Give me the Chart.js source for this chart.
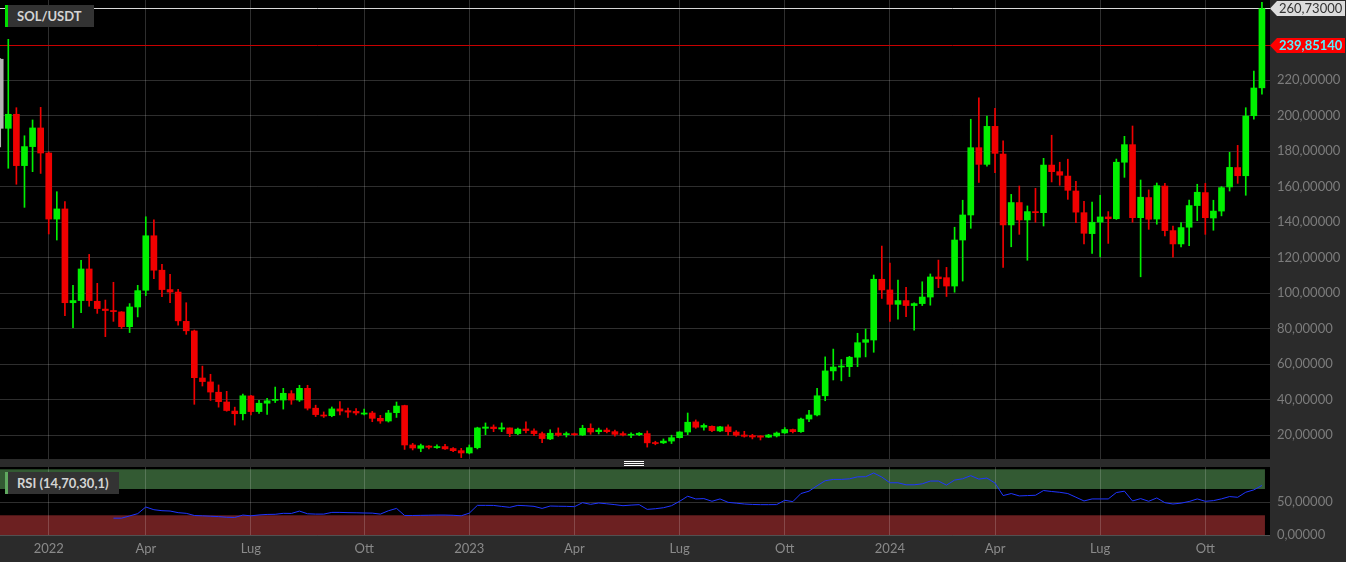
<!DOCTYPE html>
<html lang="it"><head><meta charset="utf-8"><title>SOL/USDT</title>
<script src="https://cdn.jsdelivr.net/npm/chart.js@4.4.1/dist/chart.umd.min.js"></script>
<style>
html,body{margin:0;padding:0;width:1346px;height:562px;overflow:hidden;background:#2b2b2b;font-family:Lato,"Open Sans",sans-serif}
canvas{position:absolute;left:0;display:block}
#main{top:0}
#rsi{top:467px}
.box{position:absolute;left:5px;height:22px;background:#333;color:#d4d4d4;font-weight:bold;box-sizing:border-box;line-height:22px;white-space:nowrap;font-size:13px}
#t1{top:5px;width:89px;border-left:3px solid #00e000;padding-left:9px}
#t2{top:472px;width:114px;border-left:3px solid #5fa85f;padding-left:9px}
#handle{position:absolute;left:624px;top:461px;width:20px;height:6px;background:repeating-linear-gradient(#fff 0 1px,transparent 1px 2px)}
</style></head><body>
<canvas id="main" width="1346" height="459"></canvas>
<canvas id="rsi" width="1346" height="95"></canvas>
<div class="box" id="t1">SOL/USDT</div>
<div class="box" id="t2">RSI (14,70,30,1)</div>
<div id="handle"></div>
<script>
// ---- data (weekly candles, index 0 = first visible week) ----
const open=[231.7,192.8,200.7,171.8,182.5,193.0,178.9,141.7,147.4,94.6,
95.8,113.6,95.4,91.0,90.2,89.4,81.1,92.2,101.6,132.3,
112.9,102.0,100.6,84.1,78.7,52.2,50.0,44.2,38.7,33.6,
32.1,42.1,33.3,38.0,39.6,39.8,43.4,39.8,46.4,35.2,
31.2,31.0,34.8,33.8,33.4,31.9,32.5,29.5,28.0,32.7,
36.7,14.5,12.6,13.9,13.0,13.6,12.5,11.3,10.0,13.0,
23.9,24.6,23.5,24.1,20.9,23.5,22.4,20.9,17.9,21.2,
20.3,20.7,20.1,23.9,22.0,22.9,22.0,20.9,20.0,20.3,
20.9,15.8,15.7,16.7,18.6,21.8,27.5,24.5,25.0,22.4,
24.7,21.8,20.1,19.8,19.6,18.9,19.6,21.3,23.2,22.0,
29.1,31.4,42.2,56.2,58.4,58.6,63.9,72.3,73.6,107.8,
101.8,93.7,95.8,93.0,94.1,97.8,109.1,108.7,104.0,129.9,
144.0,181.9,172.5,193.9,178.3,138.4,151.0,141.2,145.9,145.3,
172.1,168.4,165.9,157.5,145.3,133.5,140.0,142.9,141.9,173.7,
183.6,142.5,153.8,141.7,160.3,135.2,127.7,137.1,149.3,156.6,
142.3,146.2,159.8,170.7,166.1,199.9,215.6];
const close=[192.8,200.7,171.8,182.5,193.0,178.9,141.7,147.4,94.6,95.8,
113.6,95.8,91.3,90.2,89.6,81.1,92.2,101.4,132.3,112.9,
102.0,100.6,84.4,78.8,52.4,50.2,44.3,38.9,33.9,32.1,
42.2,33.3,38.0,39.4,40.0,43.6,39.8,46.4,35.2,31.6,
30.8,34.8,33.6,33.0,32.5,32.5,29.5,28.0,32.5,36.4,
14.5,12.8,14.1,13.2,13.6,12.3,11.3,10.0,13.0,24.1,
24.6,23.7,24.2,20.9,23.4,22.6,20.9,18.1,21.1,20.0,
20.9,20.3,23.9,21.8,22.9,22.0,20.5,20.1,20.5,21.1,
15.7,15.3,16.7,18.6,21.8,27.3,24.5,25.5,22.6,24.7,
22.0,20.0,19.4,19.0,18.9,20.1,21.2,23.2,22.0,29.1,
31.4,42.2,56.2,58.4,58.9,63.9,72.1,73.8,107.8,101.8,
93.7,95.8,93.0,94.1,97.8,109.1,108.1,104.0,129.9,144.0,
181.9,172.5,193.9,178.7,138.4,151.0,141.2,145.9,145.3,172.1,
168.4,166.4,157.9,145.6,133.7,139.9,142.9,141.9,173.7,183.6,
142.5,154.0,141.6,160.5,135.2,127.7,136.9,149.3,156.8,142.5,
146.2,159.4,170.8,166.1,199.7,215.5,260.2];
const high=[232.0,242.9,204.4,188.6,197.5,204.6,179.5,157.1,151.5,104.4,
118.5,121.8,105.5,96.1,106.1,89.6,94.1,104.4,143.0,141.2,
116.2,110.6,102.2,94.6,79.2,58.9,54.3,48.3,44.7,35.8,
43.2,42.5,39.6,40.8,47.1,46.4,45.1,48.1,48.1,36.9,
33.1,35.9,39.0,35.3,35.0,34.7,33.4,31.2,34.0,38.7,
36.9,15.4,15.0,14.2,14.6,14.8,13.0,12.6,14.5,24.5,
26.9,25.8,26.9,24.1,24.0,27.5,23.6,21.8,23.1,24.1,
21.8,21.2,25.6,26.4,24.0,24.0,22.9,21.9,21.4,21.5,
22.4,16.6,17.9,20.0,22.0,32.5,28.6,26.4,25.3,25.0,
25.8,22.6,22.2,20.5,19.8,20.5,21.8,24.3,23.4,29.7,
34.0,46.4,64.1,68.5,62.6,64.4,77.4,79.8,110.2,126.5,
116.9,107.4,103.3,94.5,106.4,110.8,118.6,114.5,137.1,152.3,
197.9,209.9,199.7,204.1,185.7,155.6,160.3,149.1,159.0,175.9,
188.9,173.7,175.4,163.0,151.7,151.2,155.1,145.9,175.5,188.3,
194.1,163.7,158.1,162.0,161.8,137.8,139.7,152.4,161.3,161.8,
152.3,160.0,179.3,183.2,204.4,225.0,263.7];
const low=[182.3,170.3,161.3,148.3,168.4,167.4,133.3,129.9,87.3,80.6,
89.0,92.6,88.6,75.5,84.1,80.0,77.8,86.6,98.6,108.1,
98.0,94.6,81.9,76.8,37.4,47.7,39.6,35.8,33.5,25.7,
28.6,31.4,32.2,31.7,38.4,34.7,37.4,39.0,34.2,30.5,
30.0,30.4,31.4,30.0,31.4,31.4,27.6,26.7,27.4,30.0,
12.0,11.7,10.7,12.3,12.5,12.0,10.7,7.4,9.5,12.3,
20.3,22.0,22.0,19.2,20.3,21.3,19.8,15.8,17.5,19.4,
19.0,19.8,19.8,20.5,20.7,21.3,19.4,19.6,18.6,19.8,
13.3,14.6,15.3,15.3,18.4,20.3,23.9,22.8,22.0,22.0,
20.0,19.4,18.9,17.9,17.3,18.7,19.0,21.0,21.3,21.6,
27.6,30.8,39.4,51.1,50.6,53.0,58.6,64.1,66.7,97.0,
84.0,85.3,86.8,79.1,93.0,93.2,103.1,98.1,100.5,106.8,
136.5,162.4,171.5,167.8,114.5,126.1,133.1,118.5,139.9,137.8,
162.6,160.7,152.8,139.7,127.7,122.4,120.5,128.0,141.5,165.2,
139.9,109.2,135.9,138.8,132.2,120.2,126.0,126.7,140.8,133.1,
135.4,143.5,157.5,161.8,155.1,198.0,212.0];
// RSI(14) values, starting at candle index rsiStart
const rsiStart=14;
const rsi=[25.6,25.6,29.0,32.5,42.6,38.5,37.0,36.5,34.0,33.0,
29.7,29.2,28.6,28.0,27.0,26.7,30.3,29.2,30.5,31.3,
31.5,33.0,32.8,36.4,32.3,31.8,31.8,34.4,34.4,34.0,
33.8,33.5,33.3,31.8,36.9,40.5,29.7,29.7,29.9,30.1,
30.3,30.3,30.0,29.2,33.3,45.1,45.1,45.0,43.5,42.1,
45.1,44.5,43.6,40.5,44.1,43.8,43.6,43.1,49.2,46.7,
48.7,47.5,46.2,44.6,45.5,46.2,39.0,40.0,41.5,44.6,
51.3,59.0,54.9,55.4,51.3,54.9,49.7,48.5,47.2,46.5,
46.2,46.2,46.3,52.8,50.8,63.1,66.7,75.0,82.6,84.6,
84.6,85.5,88.5,88.7,94.4,88.2,79.5,79.5,76.4,76.4,
77.9,82.1,82.1,75.9,83.6,85.6,90.3,85.1,86.7,79.0,
60.0,63.1,59.5,60.0,60.5,67.7,66.2,65.0,63.1,57.5,
51.8,54.9,54.9,54.9,64.6,66.7,51.8,55.4,51.3,56.4,
49.2,47.2,48.5,51.0,54.9,51.3,52.3,55.0,58.5,57.4,
65.1,68.7,75.4];
// time-axis ticks (candle index of first week of month) and labels
const tickIdx=[6,18,31,45,58,71,84,97,110,123,136,149];
const tickLabels=['2022','Apr','Lug','Ott','2023','Apr','Lug','Ott','2024','Apr','Lug','Ott'];
const priceTicks=[20,40,60,80,100,120,140,160,180,200,220];
const rsiTicks=[0,50];
const rsiBands=[[70,100,'#335a33'],[0,30,'#6c2021']];
const lastHigh=260.73, lastPrice=239.8514;

// ---- rendering ----
const fmt=v=>Number(v).toFixed(5).replace('.',',');
const UP='#00f000', DN='#f00000', FIRST='#b4b4b4';
const idx=open.map((_,i)=>i);
const col=idx.map(i=>i===0?FIRST:(close[i]>=open[i]?UP:DN));
const GRID='rgba(255,255,255,0.18)';
const XMIN=-0.026, XMAX=156.997;
Chart.defaults.font.family='Lato';
const noPadY=w=>s=>{s.width=w;s.paddingTop=0;s.paddingBottom=0;};
const noPadX=h=>s=>{s.height=h;s.paddingLeft=0;s.paddingRight=0;};

const bg={id:'bg',beforeDraw(c){const {ctx,chartArea:a}=c;ctx.save();ctx.fillStyle='#000';ctx.fillRect(a.left,a.top,a.right-a.left,a.bottom-a.top);ctx.restore();}};

function tag(ctx,x,yc,w,h,bgc,fg,txt,bold){
  ctx.fillStyle=bgc;ctx.beginPath();
  ctx.moveTo(x,yc);ctx.lineTo(x+7,yc-h/2);ctx.lineTo(x+w,yc-h/2);ctx.lineTo(x+w,yc+h/2);ctx.lineTo(x+7,yc+h/2);ctx.closePath();ctx.fill();
  ctx.fillStyle=fg;ctx.font=(bold?'bold ':'')+'13px Lato';ctx.textBaseline='middle';ctx.textAlign='left';
  ctx.fillText(txt,x+9,yc+0.5);
}
const priceLines={id:'priceLines',
  beforeDatasetsDraw(c){const {ctx,chartArea:a,scales:{y}}=c;ctx.save();ctx.lineWidth=1;
    [[lastHigh,'#d8d8d8'],[lastPrice,'#c80000']].forEach(([v,cl])=>{const py=Math.round(y.getPixelForValue(v))+0.5;ctx.strokeStyle=cl;ctx.beginPath();ctx.moveTo(a.left,py);ctx.lineTo(a.right,py);ctx.stroke();});
    ctx.restore();},
  afterDraw(c){const {ctx,chartArea:a,scales:{y}}=c;ctx.save();
    tag(ctx,a.right,Math.round(y.getPixelForValue(lastHigh))+0.5,75,15,'#dcdcdc','#333',fmt(lastHigh),false);
    tag(ctx,a.right,Math.round(y.getPixelForValue(lastPrice))+0.5,75,15,'#ff0000','#55f0ff',fmt(lastPrice),true);
    ctx.restore();}
};

new Chart(document.getElementById('main'),{
  type:'bar',
  data:{datasets:[
    {data:idx.map(i=>({x:i,y:[open[i],close[i]]})),backgroundColor:col,barThickness:6,grouped:false,minBarLength:1,order:0},
    {data:idx.map(i=>({x:i,y:[low[i],high[i]]})),backgroundColor:col,barThickness:1,grouped:false,order:1}
  ]},
  options:{responsive:false,animation:false,events:[],layout:{padding:0},
    plugins:{legend:{display:false},tooltip:{enabled:false}},
    scales:{
      x:{type:'linear',min:XMIN,max:XMAX,offset:false,grid:{color:GRID,drawTicks:false,offset:false},border:{display:false},
         ticks:{display:false},afterBuildTicks:s=>{s.ticks=tickIdx.map(v=>({value:v}));},afterFit:noPadX(0)},
      y:{position:'right',min:6.6,max:265.05,grid:{color:GRID,drawTicks:false},border:{display:false},
         ticks:{color:'#7c7c7c',font:{size:13},padding:7,callback:v=>fmt(v)},
         afterBuildTicks:s=>{s.ticks=priceTicks.map(v=>({value:v}));},afterFit:noPadY(76)}
    }},
  plugins:[bg,priceLines]
});

const bands={id:'bands',beforeDraw(c){const {ctx,chartArea:a,scales:{x,y}}=c;ctx.save();
  const x1=x.getPixelForValue(idx[idx.length-1])+3;
  rsiBands.forEach(([lo,hi,cl])=>{const y0=y.getPixelForValue(hi),y1=y.getPixelForValue(lo);ctx.fillStyle=cl;ctx.fillRect(a.left,y0,x1-a.left,y1-y0);});
  ctx.restore();}};

new Chart(document.getElementById('rsi'),{
  type:'line',
  data:{datasets:[{data:rsi.map((v,k)=>({x:rsiStart+k,y:v})),borderColor:'#1f35ff',borderWidth:1,pointRadius:0,tension:0,fill:false}]},
  options:{responsive:false,animation:false,events:[],layout:{padding:0},
    plugins:{legend:{display:false},tooltip:{enabled:false}},
    scales:{
      x:{type:'linear',min:XMIN,max:XMAX,offset:false,grid:{color:GRID,drawTicks:false},border:{display:false},
         ticks:{color:'#8a8a8a',font:{size:13},padding:6,maxRotation:0,autoSkip:false,callback:(v,i)=>tickLabels[i]},
         afterBuildTicks:s=>{s.ticks=tickIdx.map(v=>({value:v}));},afterFit:noPadX(27)},
      y:{position:'right',min:0,max:103.5,grid:{color:GRID,drawTicks:false},border:{display:false},
         ticks:{color:'#7c7c7c',font:{size:13},padding:7,callback:v=>fmt(v)},
         afterBuildTicks:s=>{s.ticks=rsiTicks.map(v=>({value:v}));},afterFit:noPadY(76)}
    }},
  plugins:[bg,bands]
});
</script>
</body></html>
